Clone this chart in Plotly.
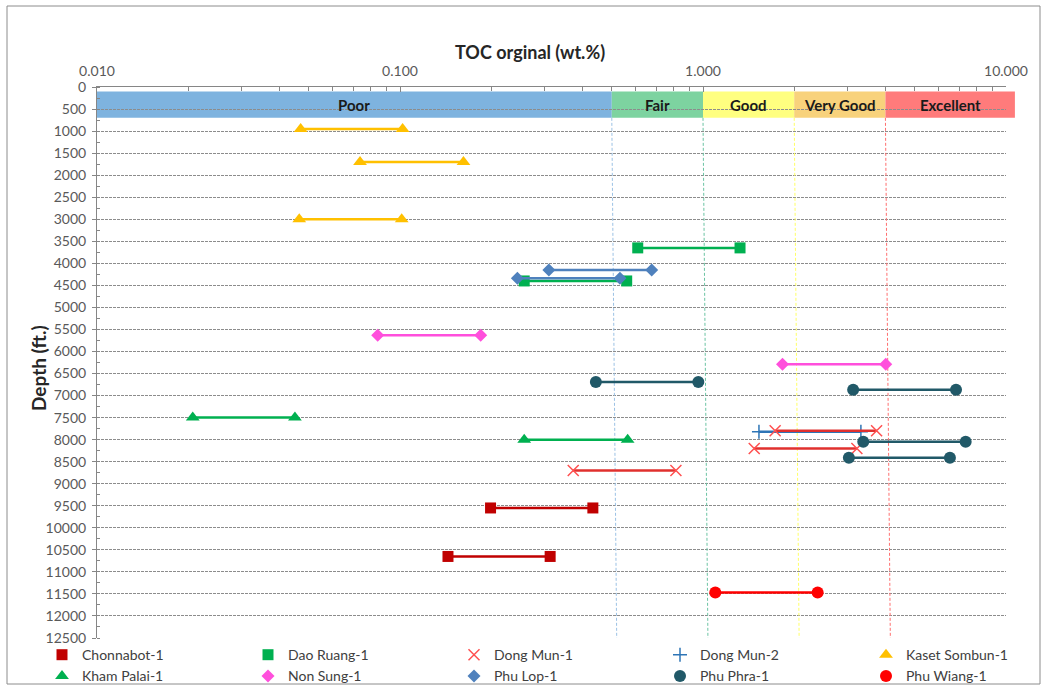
import numpy as np
import plotly.graph_objects as go

# ---- TOC ranges per well: depth (ft), minimum and maximum TOC (wt.%) ----
chonnabot_depth = [9550, 10650]
chonnabot_min = [0.199, 0.144]
chonnabot_max = [0.433, 0.313]

dao_ruang_depth = [3650, 4400]
dao_ruang_min = [0.609, 0.257]
dao_ruang_max = [1.325, 0.560]

dong_mun1_depth = [7800, 8200, 8700]
dong_mun1_min = [1.73, 1.476, 0.373]
dong_mun1_max = [3.74, 3.22, 0.814]

dong_mun2_depth = [7820]
dong_mun2_min = [1.53]
dong_mun2_max = [3.32]

kaset_depth = [950, 1700, 3000]
kaset_min = [0.047, 0.0738, 0.0465]
kaset_max = [0.102, 0.162, 0.1013]

kham_palai_depth = [7500, 8000]
kham_palai_min = [0.0207, 0.257]
kham_palai_max = [0.045, 0.564]

non_sung_depth = [5630, 6290]
non_sung_min = [0.0844, 1.83]
non_sung_max = [0.1846, 4.01]

phu_lop_depth = [4150, 4340]
phu_lop_min = [0.310, 0.244]
phu_lop_max = [0.677, 0.532]

phu_phra_depth = [6690, 6870, 8050, 8410]
phu_phra_min = [0.443, 3.13, 3.38, 3.03]
phu_phra_max = [0.965, 6.84, 7.36, 6.53]

phu_wiang_depth = [11470]
phu_wiang_min = [1.098]
phu_wiang_max = [2.39]

# ---- source-rock quality classes ----
class_names = ["Poor", "Fair", "Good", "Very Good", "Excellent"]
class_lo = [0.01, 0.5, 1.0, 2.0, 4.0]
class_hi = [0.5, 1.0, 2.0, 4.0, 10.7]
class_colors = ["#7eb3df", "#7dd3a0", "#ffff80", "#f8d27c", "#ff7b7b"]
guide_colors = ["#9cc2e5", "#6cc4a4", "#ffff66", "#ff6f6f"]
band_top, band_bottom = 100, 700

x_tickvals = [0.01, 0.1, 1, 10]
x_ticktext = ["0.010", "0.100", "1.000", "10.000"]
depth_max = 12500

# figure geometry (px)
W, H = 1041, 686
ML, MR, MT, MB = 97, 0, 87, 48
PLOT_W = 909
paper_w = W - ML - MR
paper_h = H - MT - MB
x_dom = PLOT_W / paper_w


def to_paper_x(v):
    return x_dom * (np.log10(v) + 2) / 3


def to_paper_y(d):
    return 1 - d / depth_max


def segments(depths, lo, hi):
    xs, ys = [], []
    for d, a, b in zip(depths, lo, hi):
        xs += [a, b, None]
        ys += [d, d, None]
    return xs, ys


wells = [
    ("Chonnabot-1", chonnabot_depth, chonnabot_min, chonnabot_max,
     "#c00000", dict(symbol="square", size=11, color="#c00000")),
    ("Dao Ruang-1", dao_ruang_depth, dao_ruang_min, dao_ruang_max,
     "#00b050", dict(symbol="square", size=11, color="#00b050")),
    ("Dong Mun-1", dong_mun1_depth, dong_mun1_min, dong_mun1_max,
     "#e0302e", dict(symbol="x-thin", size=11, color="#ff5050",
                     line=dict(width=1.5, color="#ff5050"))),
    ("Dong Mun-2", dong_mun2_depth, dong_mun2_min, dong_mun2_max,
     "#2e75b6", dict(symbol="cross-thin", size=10, color="#2e75b6",
                     line=dict(width=1.5, color="#2e75b6"))),
    ("Kaset Sombun-1", kaset_depth, kaset_min, kaset_max,
     "#ffc000", dict(symbol="triangle-up", size=12, color="#ffc000")),
    ("Kham Palai-1", kham_palai_depth, kham_palai_min, kham_palai_max,
     "#00b050", dict(symbol="triangle-up", size=12, color="#00b050")),
    ("Non Sung-1", non_sung_depth, non_sung_min, non_sung_max,
     "#ff4fdc", dict(symbol="diamond", size=10, color="#ff4fdc")),
    ("Phu Lop-1", phu_lop_depth, phu_lop_min, phu_lop_max,
     "#4f81bd", dict(symbol="diamond", size=10, color="#4f81bd")),
    ("Phu Phra-1", phu_phra_depth, phu_phra_min, phu_phra_max,
     "#215968", dict(symbol="circle", size=12, color="#215968")),
    ("Phu Wiang-1", phu_wiang_depth, phu_wiang_min, phu_wiang_max,
     "#ff0000", dict(symbol="circle", size=12, color="#ff0000")),
]

fig = go.Figure()

# class-boundary guides, leaning slightly toward the base
guide_lean = 1.038
for v, c in zip(class_lo[1:], guide_colors):
    fig.add_trace(go.Scatter(
        x=[v, v * guide_lean], y=[band_bottom, depth_max], mode="lines",
        line=dict(color=c, width=1, dash="3px,2px"),
        showlegend=False, hoverinfo="skip"))

# TOC range segments (Dong Mun-2 first so Dong Mun-1 sits on top)
draw_order = [0, 1, 3, 2, 4, 5, 6, 7, 8, 9]
for i in draw_order:
    name, d, lo, hi, lc, mk = wells[i]
    xs, ys = segments(d, lo, hi)
    fig.add_trace(go.Scatter(
        x=xs, y=ys, mode="lines+markers", name=name,
        line=dict(color=lc, width=2.5), marker=mk,
        showlegend=False, connectgaps=False))

# legend entries (markers only)
for name, d, lo, hi, lc, mk in wells:
    fig.add_trace(go.Scatter(
        x=[None], y=[None], mode="markers", name=name, marker=mk,
        showlegend=True))

shapes = []
for lo, hi, c in zip(class_lo, class_hi, class_colors):
    shapes.append(dict(
        type="rect", xref="paper", yref="paper",
        x0=to_paper_x(lo), x1=to_paper_x(hi),
        y0=to_paper_y(band_bottom), y1=to_paper_y(band_top),
        fillcolor=c, line=dict(width=0), layer="below"))

# outer chart border
shapes.append(dict(
    type="rect", xref="paper", yref="paper",
    x0=(7 - ML) / paper_w, x1=(1040 - ML) / paper_w,
    y0=(H - MB - 684) / paper_h, y1=(H - MB - 6) / paper_h,
    line=dict(color="#8c8c8c", width=1), fillcolor="rgba(0,0,0,0)"))

annotations = []
for name, lo, hi in zip(class_names, class_lo, class_hi):
    annotations.append(dict(
        x=(np.log10(lo) + np.log10(hi)) / 2, y=(band_top + band_bottom) / 2,
        xref="x", yref="y", text=name, showarrow=False,
        font=dict(size=15, color="#1a1a1a", family="Lato", weight="bold")))

annotations.append(dict(
    x=(530 - ML) / paper_w, y=(H - MB - 52) / paper_h, xref="paper", yref="paper",
    text="TOC orginal (wt.%)", showarrow=False, xanchor="center", yanchor="middle",
    font=dict(size=18, color="#262626", family="Lato", weight="bold")))
annotations.append(dict(
    x=(38 - ML) / paper_w, y=(H - MB - 368) / paper_h, xref="paper", yref="paper",
    text="Depth (ft.)", showarrow=False, textangle=-90,
    xanchor="center", yanchor="middle",
    font=dict(size=19, color="#262626", family="Lato", weight="bold")))

minor_x = [m * 10.0 ** e for e in (-2, -1, 0) for m in range(2, 10)]

fig.update_layout(
    width=W, height=H,
    margin=dict(l=ML, r=MR, t=MT, b=MB, autoexpand=False),
    paper_bgcolor="white", plot_bgcolor="white",
    font=dict(family="Lato", color="#404040"),
    shapes=shapes, annotations=annotations,
    xaxis=dict(
        type="log", range=[-2, 1], side="top", domain=[0, x_dom],
        tickvals=x_tickvals, ticktext=x_ticktext,
        tickfont=dict(size=14, color="#595959"), ticklabelstandoff=4,
        ticks="inside", ticklen=5, tickcolor="#868686",
        showline=True, linecolor="#868686", linewidth=1,
        showgrid=False, zeroline=False,
        minor=dict(tickvals=minor_x, ticks="inside", ticklen=4,
                   tickcolor="#868686", showgrid=False)),
    yaxis=dict(
        range=[depth_max, 0], tick0=0, dtick=500, tickformat="d",
        tickfont=dict(size=14, color="#595959"), ticklabelstandoff=3,
        ticks="outside", ticklen=4, tickcolor="#868686",
        showline=True, linecolor="#868686", linewidth=1,
        showgrid=True, gridcolor="#8c8c8c", gridwidth=1, griddash="3px,1px",
        zeroline=False,
        minor=dict(dtick=250, ticks="inside", ticklen=3,
                   tickcolor="#868686", showgrid=False)),
    legend=dict(
        orientation="h", x=(42 - ML) / paper_w, xanchor="left",
        y=-0.002, yanchor="top", entrywidth=161, entrywidthmode="pixels",
        itemwidth=30, font=dict(size=14, color="#404040", family="Lato"),
        bgcolor="rgba(0,0,0,0)", traceorder="normal"),
)

fig.write_html("out.html")
